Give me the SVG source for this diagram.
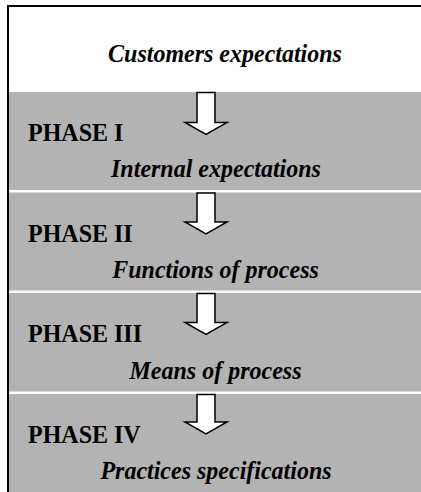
<svg xmlns="http://www.w3.org/2000/svg" width="421" height="492" viewBox="0 0 421 492">
<style>
.band{fill:#b3b3b3}
.title{font-family:"Liberation Serif","Times New Roman",serif;font-weight:bold;font-style:italic;font-size:24px;fill:#000}
.phase{font-family:"Liberation Serif","Times New Roman",serif;font-weight:bold;font-size:24px;fill:#000}
.arrow{fill:#fff;stroke:#000;stroke-width:1.5;stroke-linejoin:miter}
.frame{fill:none;stroke:#000;stroke-width:2}
</style>
<rect x="0" y="0" width="421" height="492" fill="#fff"/>
<g id="customers">
<text class="title" transform="translate(225,62) scale(1,1.07)" text-anchor="middle">Customers expectations</text>
</g>
<g id="phase1">
<rect class="band" x="9" y="92" width="412" height="98"/>
<text class="phase" transform="translate(28,141) scale(1,1.07)">PHASE I</text>
<text class="title" transform="translate(216,176.5) scale(1,1.07)" text-anchor="middle">Internal expectations</text>
</g>
<g id="phase2">
<rect class="band" x="9" y="192.5" width="412" height="98"/>
<text class="phase" transform="translate(28,241.5) scale(1,1.07)">PHASE II</text>
<text class="title" transform="translate(215.5,277.5) scale(1,1.07)" text-anchor="middle">Functions of process</text>
</g>
<g id="phase3">
<rect class="band" x="9" y="293" width="412" height="98.5"/>
<text class="phase" transform="translate(28,342) scale(1,1.07)">PHASE III</text>
<text class="title" transform="translate(215.5,378.5) scale(1,1.07)" text-anchor="middle">Means of process</text>
</g>
<g id="phase4">
<rect class="band" x="9" y="394" width="412" height="98"/>
<text class="phase" transform="translate(28,443) scale(1,1.07)">PHASE IV</text>
<text class="title" transform="translate(216,478.5) scale(1,1.07)" text-anchor="middle">Practices specifications</text>
</g>
<g id="connectors">
<polygon class="arrow" points="197,92.5 215,92.5 215,122.5 227,122.5 206,134.5 185,122.5 197,122.5"/>
<polygon class="arrow" points="197,193 215,193 215,222 227,222 206,234 185,222 197,222"/>
<polygon class="arrow" points="197,293.5 215,293.5 215,322.5 227,322.5 206,334.5 185,322.5 197,322.5"/>
<polygon class="arrow" points="197,394.5 215,394.5 215,422 227,422 206,434 185,422 197,422"/>
</g>
<path class="frame" d="M8,492 V6 H421"/>
</svg>
